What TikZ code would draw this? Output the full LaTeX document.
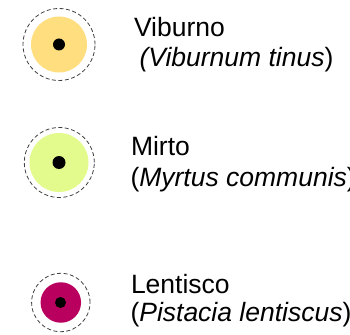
\documentclass[tikz,border=0pt]{standalone}
\usepackage{fontspec}
\setmainfont{Liberation Sans}
\definecolor{viburnocol}{HTML}{FFDE80}
\definecolor{mirtocol}{HTML}{E2FB8C}
\definecolor{lentiscocol}{HTML}{BA005E}
\begin{document}
\begin{tikzpicture}[x=1pt,y=-1pt,
  ring/.style={circle,draw=black!75,line width=0.8pt,dash pattern=on 4pt off 2.5pt,inner sep=0pt,outer sep=0pt},
  disc/.style={circle,inner sep=0pt,outer sep=0pt},
  seed/.style={circle,fill=black,inner sep=0pt,outer sep=0pt},
  lbl/.style={anchor=base west,inner sep=0pt,outer sep=0pt,font=\fontsize{26.5}{31}\selectfont}]
\useasboundingbox (0,0) rectangle (350,334);
% Viburno
\node[ring,minimum size=72pt] (r1) at (59,44.5) {};
\node[disc,fill=viburnocol,minimum size=56pt] (d1) at (59,44.5) {};
\node[seed,minimum size=12pt] (s1) at (59,44.5) {};
\node[lbl] (n1) at (134,36.7) {Viburno};
\node[lbl] (l1) at (139.5,66.7) {\textit{(Viburnum tinus}};
\node[lbl,anchor=base west] (p1) at (l1.base east) {)};
% Mirto
\node[ring,minimum size=70pt] (r2) at (59.3,162.5) {};
\node[disc,fill=mirtocol,minimum size=59pt] (d2) at (59,162.5) {};
\node[seed,minimum size=13pt] (s2) at (59,162.5) {};
\node[lbl] (n2) at (131,155) {Mirto};
\node[lbl] (l2) at (130.5,186.5) {(\textit{Myrtus communis})};
% Lentisco
\node[ring,minimum size=58.4pt] (r3) at (60.8,302.5) {};
\node[disc,fill=lentiscocol,minimum size=40.5pt] (d3) at (60.8,302.5) {};
\node[seed,minimum size=11pt] (s3) at (60.5,302.5) {};
\node[lbl] (n3) at (131,293.3) {Lentisco};
\node[lbl] (l3) at (130.5,321.7) {(\textit{Pistacia lentiscus})};
\end{tikzpicture}
\end{document}
